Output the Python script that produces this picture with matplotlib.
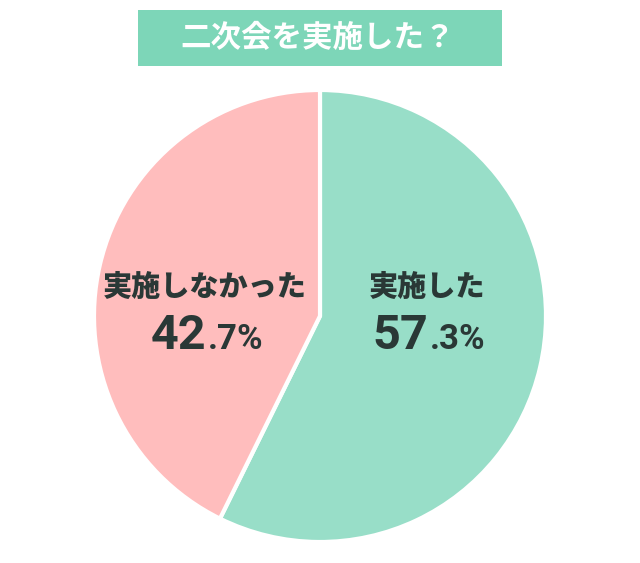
import matplotlib
matplotlib.use("Agg")
import matplotlib.pyplot as plt
from matplotlib.patches import Rectangle

plt.rcParams['font.family'] = ['Noto Sans CJK JP', 'DejaVu Sans']

title = "二次会を実施した？"
categories = ["実施した", "実施しなかった"]
values = [57.3, 42.7]
colors = ["#98dec8", "#ffbdbd"]
text_color = "#2a3836"

W, H = 640, 563
fig = plt.figure(figsize=(W / 100, H / 100), dpi=100)
ax = fig.add_axes([0, 0, 1, 1])

cx, cy, r = 320, H - 316, 226
ax.pie(values, colors=colors, startangle=90, counterclock=False,
       center=(cx, cy), radius=r, frame=True,
       wedgeprops=dict(edgecolor="white", linewidth=3))
ax.set_xlim(0, W)
ax.set_ylim(0, H)
ax.set_aspect("equal")
ax.axis("off")

# title box
ax.add_patch(Rectangle((138, H - 66), 364, 56, facecolor="#7dd6b8", edgecolor="none"))
ax.text(318, H - 38, title, ha="center", va="center", color="white",
        fontsize=22, fontweight="bold")

label_pos = [427, 205]
num_font = ["Roboto", "DejaVu Sans"]
for lx, cat, v in zip(label_pos, categories, values):
    ax.text(lx, H - 287, cat, ha="center", va="center", color=text_color,
            fontsize=21, fontweight="black")
    s = f"{v:.1f}"
    ip, dp = s.split(".")
    ax.text(lx - 7 + 8, H - 349, ip, ha="right", va="baseline", color=text_color,
            fontsize=35, fontweight="bold", family=num_font)
    ax.text(lx - 5 + 8, H - 349, "." + dp + "%", ha="left", va="baseline",
            color=text_color, fontsize=25, fontweight="bold", family=num_font)

fig.savefig("out.png", dpi=100)
